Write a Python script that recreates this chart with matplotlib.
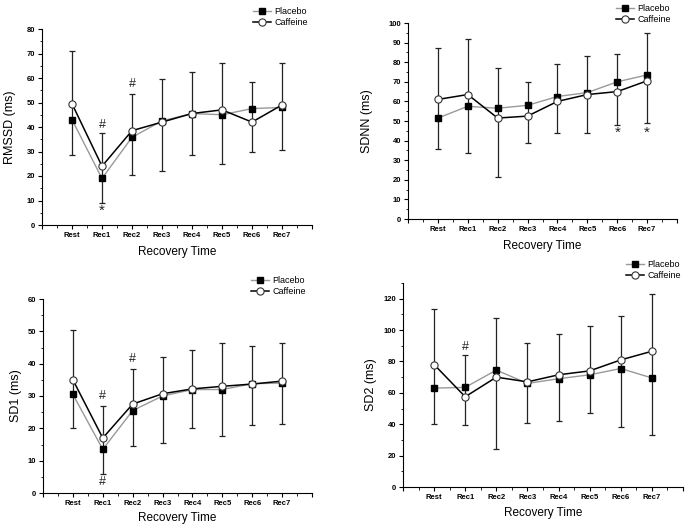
import matplotlib
matplotlib.use('Agg')
import matplotlib.pyplot as plt
from matplotlib.ticker import MultipleLocator
import numpy as np

plt.rcParams.update({'font.family': ['Liberation Sans', 'DejaVu Sans'],
                     'axes.linewidth': 0.8})

cats = ['Rest', 'Rec1', 'Rec2', 'Rec3', 'Rec4', 'Rec5', 'Rec6', 'Rec7']

# RMSSD
rmssd_placebo  = [43, 19, 35.8, 42.5, 45.5, 45, 47.5, 48]
rmssd_caffeine = [49.5, 24, 38.5, 42, 45.5, 47, 42, 49]
rmssd_hi       = [71, 37.5, 53.5, 59.5, 62.5, 66, 58.5, 66]
rmssd_lo       = [28.5, 9, 20.5, 22, 28.5, 25, 30, 30.5]

# SDNN
sdnn_placebo  = [51.5, 57.5, 56.5, 58, 62.5, 64.5, 70, 73.5]
sdnn_caffeine = [61, 63.5, 51.5, 52.5, 60, 63.5, 65, 70.5]
sdnn_hi       = [87, 92, 77, 70, 79, 83, 84, 95]
sdnn_lo       = [35.5, 33.5, 21.5, 39, 44, 44, 48, 49]

# SD1
sd1_placebo  = [30.5, 13.5, 25.5, 30, 32, 32, 33.8, 34]
sd1_caffeine = [35, 17, 27.5, 30.7, 32.2, 33, 33.7, 34.6]
sd1_hi       = [50.5, 26.8, 38.5, 42, 44.3, 46.3, 45.5, 46.5]
sd1_lo       = [20, 6, 14.5, 15.5, 20, 17.5, 21, 21.2]

# SD2
sd2_placebo  = [63, 63.5, 74.5, 66, 69, 71.5, 75.5, 69.5]
sd2_caffeine = [78, 57.5, 70, 67, 71.5, 74, 81, 86.5]
sd2_hi       = [113.5, 84, 107.5, 91.5, 97.5, 102.5, 109, 123]
sd2_lo       = [40, 39.5, 24.5, 41, 42, 47, 38, 33]

# significance marks: (category index, y value, symbol)
rmssd_marks = [(1, 41, '#'), (2, 57.5, '#'), (1, 6, '*')]
sdnn_marks  = [(6, 44, '*'), (7, 44, '*')]
sd1_marks   = [(1, 30, '#'), (2, 41.5, '#'), (1, 3.5, '#')]
sd2_marks   = [(1, 89.5, '#')]

W, H = 685, 527
fig = plt.figure(figsize=(W / 100, H / 100), dpi=100)

# px = left, right, bottom, top of the axes in pixels; leg = legend top-right corner in pixels
panels = [
    dict(px=(42, 312, 225, 29), ylim=80, ymaj=10, ymin=5, ylab='RMSSD (ms)',
         pl=rmssd_placebo, cf=rmssd_caffeine, hi=rmssd_hi, lo=rmssd_lo, marks=rmssd_marks,
         ylx=-0.096, xly=-0.107, leg=(314, 1)),
    dict(px=(408, 677, 219, 23), ylim=100, ymaj=10, ymin=5, ylab='SDNN (ms)',
         pl=sdnn_placebo, cf=sdnn_caffeine, hi=sdnn_hi, lo=sdnn_lo, marks=sdnn_marks,
         ylx=-0.13, xly=-0.107, leg=(677, -2)),
    dict(px=(43, 312, 493, 299), ylim=60, ymaj=10, ymin=5, ylab='SD1 (ms)',
         pl=sd1_placebo, cf=sd1_caffeine, hi=sd1_hi, lo=sd1_lo, marks=sd1_marks,
         ylx=-0.078, xly=-0.098, leg=(312, 270)),
    dict(px=(403, 683, 487, 283), ylim=130, ymaj=20, ymin=10, ylab='SD2 (ms)',
         pl=sd2_placebo, cf=sd2_caffeine, hi=sd2_hi, lo=sd2_lo, marks=sd2_marks,
         ylx=-0.093, xly=-0.098, leg=(687, 254)),
]

x = np.arange(1, len(cats) + 1)

for p in panels:
    l, r, b, t = p['px']
    ax = fig.add_axes([l / W, 1 - b / H, (r - l) / W, (b - t) / H])
    hi = np.array(p['hi']); lo = np.array(p['lo'])
    ax.errorbar(x, (hi + lo) / 2, yerr=(hi - lo) / 2, fmt='none', ecolor='#222222',
                elinewidth=0.9, capsize=2.2, capthick=0.9, zorder=1)
    ax.plot(x, p['pl'], color='#999999', lw=1.0, marker='s', ms=4.5,
            mfc='black', mec='black', label='Placebo', zorder=3)
    ax.plot(x, p['cf'], color='black', lw=1.1, marker='o', ms=5.2,
            mfc='white', mec='#333333', mew=0.8, label='Caffeine', zorder=4)
    for i, yv, s in p['marks']:
        ax.text(i + 1, yv, s, ha='center', va='center',
                fontsize=9 if s == '#' else 11, color='#222222')
    ax.set_xlim(0, 9)
    ax.set_ylim(0, p['ylim'])
    ax.spines['top'].set_visible(False)
    ax.spines['right'].set_visible(False)
    ax.set_xticks(range(10))
    ax.set_xticklabels([''] + cats + [''], fontsize=5.5, fontweight='bold')
    ax.xaxis.set_minor_locator(MultipleLocator(0.5))
    ax.yaxis.set_major_locator(MultipleLocator(p['ymaj']))
    ax.yaxis.set_minor_locator(MultipleLocator(p['ymin']))
    ax.tick_params(axis='both', which='major', labelsize=5.5, length=3, width=0.8, pad=2)
    ax.tick_params(axis='both', which='minor', length=1.8, width=0.6)
    for lab in ax.get_yticklabels():
        lab.set_fontweight('bold')
    ax.set_xlabel('Recovery Time', fontsize=8.5)
    ax.xaxis.set_label_coords(0.5, p['xly'])
    ax.set_ylabel(p['ylab'], fontsize=9)
    ax.yaxis.set_label_coords(p['ylx'], 0.5)
    lx, ly = p['leg']
    ax.legend(loc='upper right', bbox_to_anchor=(lx / W, 1 - ly / H),
              bbox_transform=fig.transFigure, frameon=False, fontsize=6.5,
              handlelength=2.0, handletextpad=0.3, labelspacing=0.15, borderpad=0.2)

fig.savefig('out.png', dpi=100)
